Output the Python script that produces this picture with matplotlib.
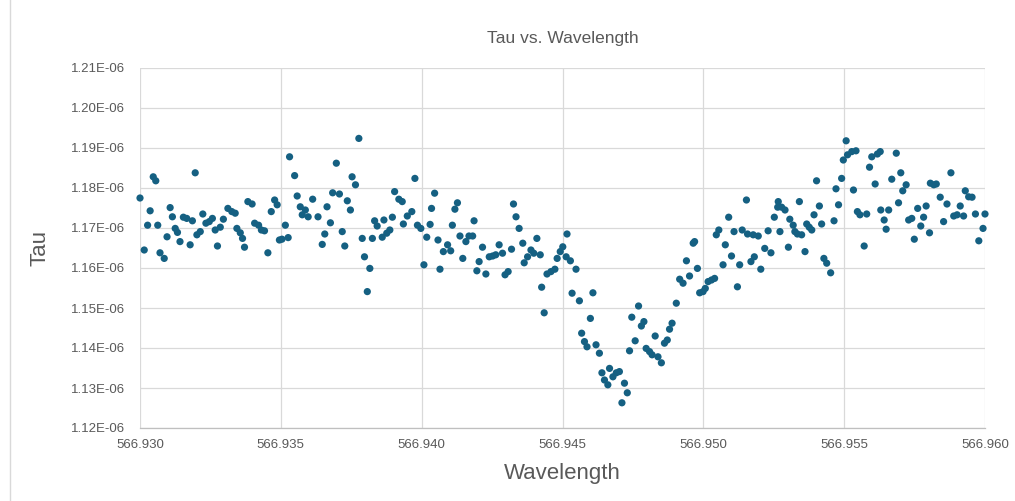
import matplotlib
matplotlib.use("Agg")
import matplotlib.pyplot as plt
from matplotlib.ticker import FuncFormatter
from matplotlib.lines import Line2D
import numpy as np

wavelength = [
    566.93000, 566.93015, 566.93027, 566.93036, 566.93047, 566.93056, 566.93063, 566.93071, 566.93086, 566.93096,
    566.93107, 566.93115, 566.93125, 566.93133, 566.93142, 566.93154, 566.93166, 566.93178, 566.93186, 566.93196,
    566.93202, 566.93214, 566.93223, 566.93234, 566.93246, 566.93257, 566.93267, 566.93275, 566.93285, 566.93296,
    566.93312, 566.93326, 566.93338, 566.93344, 566.93356, 566.93364, 566.93371, 566.93383, 566.93398, 566.93407,
    566.93421, 566.93431, 566.93442, 566.93454, 566.93466, 566.93478, 566.93487, 566.93495, 566.93504, 566.93516,
    566.93526, 566.93531, 566.93549, 566.93558, 566.93569, 566.93576, 566.93587, 566.93597, 566.93613, 566.93632,
    566.93647, 566.93656, 566.93664, 566.93676, 566.93684, 566.93697, 566.93708, 566.93718, 566.93727, 566.93736,
    566.93747, 566.93753, 566.93765, 566.93777, 566.93789, 566.93797, 566.93807, 566.93816, 566.93825, 566.93833,
    566.93842, 566.93860, 566.93866, 566.93876, 566.93887, 566.93896, 566.93904, 566.93919, 566.93931, 566.93935,
    566.93949, 566.93965, 566.93976, 566.93985, 566.93997, 566.94008, 566.94018, 566.94030, 566.94035, 566.94046,
    566.94058, 566.94065, 566.94077, 566.94092, 566.94103, 566.94109, 566.94118, 566.94127, 566.94136, 566.94146,
    566.94157, 566.94168, 566.94181, 566.94186, 566.94196, 566.94204, 566.94216, 566.94228, 566.94240, 566.94252,
    566.94263, 566.94275, 566.94287, 566.94296, 566.94307, 566.94319, 566.94326, 566.94335, 566.94346, 566.94359,
    566.94364, 566.94376, 566.94388, 566.94398, 566.94409, 566.94421, 566.94426, 566.94435, 566.94445, 566.94459,
    566.94473, 566.94481, 566.94492, 566.94501, 566.94513, 566.94516, 566.94528, 566.94534, 566.94548, 566.94560,
    566.94568, 566.94578, 566.94587, 566.94599, 566.94608, 566.94619, 566.94631, 566.94640, 566.94649, 566.94661,
    566.94667, 566.94679, 566.94691, 566.94702, 566.94711, 566.94720, 566.94730, 566.94738, 566.94746, 566.94758,
    566.94770, 566.94780, 566.94789, 566.94797, 566.94809, 566.94818, 566.94829, 566.94839, 566.94851, 566.94862,
    566.94872, 566.94880, 566.94889, 566.94904, 566.94916, 566.94928, 566.94940, 566.94951, 566.94964, 566.94969,
    566.94979, 566.94987, 566.94999, 566.95007, 566.95017, 566.95029, 566.95040, 566.95046, 566.95055, 566.95070,
    566.95078, 566.95090, 566.95100, 566.95109, 566.95121, 566.95129, 566.95138, 566.95153, 566.95157, 566.95169,
    566.95177, 566.95181, 566.95195, 566.95204, 566.95218, 566.95230, 566.95240, 566.95252, 566.95264, 566.95266,
    566.95272, 566.95278, 566.95290, 566.95302, 566.95307, 566.95319, 566.95325, 566.95334, 566.95341, 566.95349,
    566.95361, 566.95367, 566.95376, 566.95385, 566.95393, 566.95402, 566.95412, 566.95420, 566.95428, 566.95438,
    566.95452, 566.95464, 566.95471, 566.95480, 566.95491, 566.95497, 566.95507, 566.95512, 566.95527, 566.95533,
    566.95542, 566.95547, 566.95556, 566.95571, 566.95580, 566.95590, 566.95598, 566.95610, 566.95618, 566.95628,
    566.95630, 566.95642, 566.95649, 566.95658, 566.95669, 566.95685, 566.95693, 566.95701, 566.95708, 566.95720,
    566.95729, 566.95740, 566.95749, 566.95761, 566.95772, 566.95782, 566.95791, 566.95803, 566.95806, 566.95818,
    566.95827, 566.95841, 566.95853, 566.95865, 566.95879, 566.95889, 566.95901, 566.95912, 566.95924, 566.95930,
    566.95942, 566.95954, 566.95966, 566.95978, 566.95993, 566.96000,
]

tau_e6 = [
    1.1775, 1.1645, 1.1707, 1.1743, 1.1828, 1.1818, 1.1707, 1.1638, 1.1624, 1.1678,
    1.1751, 1.1728, 1.1699, 1.1689, 1.1666, 1.1727, 1.1724, 1.1658, 1.1718, 1.1838,
    1.1683, 1.1691, 1.1735, 1.1712, 1.1716, 1.1724, 1.1695, 1.1655, 1.1702, 1.1722,
    1.1749, 1.1741, 1.1737, 1.1699, 1.1688, 1.1674, 1.1652, 1.1766, 1.1760, 1.1712,
    1.1707, 1.1695, 1.1693, 1.1638, 1.1741, 1.1770, 1.1758, 1.1670, 1.1672, 1.1707,
    1.1676, 1.1878, 1.1831, 1.1780, 1.1753, 1.1733, 1.1745, 1.1728, 1.1772, 1.1728,
    1.1659, 1.1685, 1.1753, 1.1713, 1.1788, 1.1862, 1.1785, 1.1691, 1.1655, 1.1768,
    1.1745, 1.1828, 1.1808, 1.1924, 1.1674, 1.1628, 1.1541, 1.1599, 1.1674, 1.1718,
    1.1705, 1.1677, 1.1720, 1.1687, 1.1695, 1.1727, 1.1791, 1.1772, 1.1766, 1.1710,
    1.1730, 1.1741, 1.1824, 1.1707, 1.1699, 1.1608, 1.1677, 1.1709, 1.1749, 1.1787,
    1.1670, 1.1597, 1.1641, 1.1658, 1.1643, 1.1707, 1.1747, 1.1763, 1.1680, 1.1624,
    1.1666, 1.1680, 1.1680, 1.1718, 1.1593, 1.1616, 1.1652, 1.1585, 1.1628, 1.1630,
    1.1633, 1.1658, 1.1637, 1.1583, 1.1591, 1.1647, 1.1760, 1.1728, 1.1699, 1.1662,
    1.1613, 1.1628, 1.1645, 1.1637, 1.1674, 1.1633, 1.1552, 1.1488, 1.1585, 1.1591,
    1.1597, 1.1624, 1.1641, 1.1653, 1.1628, 1.1685, 1.1618, 1.1537, 1.1597, 1.1518,
    1.1437, 1.1416, 1.1403, 1.1474, 1.1538, 1.1408, 1.1387, 1.1338, 1.1320, 1.1308,
    1.1349, 1.1328, 1.1338, 1.1341, 1.1263, 1.1312, 1.1288, 1.1393, 1.1477, 1.1418,
    1.1505, 1.1455, 1.1466, 1.1399, 1.1391, 1.1383, 1.1430, 1.1378, 1.1363, 1.1412,
    1.1420, 1.1447, 1.1462, 1.1512, 1.1572, 1.1562, 1.1618, 1.1580, 1.1662, 1.1666,
    1.1599, 1.1538, 1.1541, 1.1549, 1.1566, 1.1570, 1.1574, 1.1683, 1.1695, 1.1608,
    1.1658, 1.1727, 1.1630, 1.1691, 1.1553, 1.1608, 1.1695, 1.1770, 1.1685, 1.1616,
    1.1683, 1.1628, 1.1680, 1.1597, 1.1649, 1.1693, 1.1638, 1.1727, 1.1752, 1.1766,
    1.1691, 1.1752, 1.1745, 1.1652, 1.1722, 1.1707, 1.1691, 1.1685, 1.1766, 1.1683,
    1.1641, 1.1710, 1.1702, 1.1695, 1.1733, 1.1818, 1.1755, 1.1710, 1.1624, 1.1612,
    1.1588, 1.1718, 1.1798, 1.1758, 1.1824, 1.1870, 1.1918, 1.1883, 1.1891, 1.1795,
    1.1893, 1.1741, 1.1733, 1.1655, 1.1735, 1.1852, 1.1878, 1.1810, 1.1885, 1.1891,
    1.1745, 1.1720, 1.1697, 1.1745, 1.1822, 1.1887, 1.1763, 1.1838, 1.1793, 1.1808,
    1.1720, 1.1724, 1.1672, 1.1749, 1.1705, 1.1727, 1.1755, 1.1688, 1.1812, 1.1808,
    1.1810, 1.1777, 1.1716, 1.1760, 1.1838, 1.1730, 1.1733, 1.1755, 1.1730, 1.1793,
    1.1778, 1.1777, 1.1735, 1.1668, 1.1699, 1.1735,
]

x_ticks = [566.930, 566.935, 566.940, 566.945, 566.950, 566.955, 566.960]
y_ticks_e6 = [1.12, 1.13, 1.14, 1.15, 1.16, 1.17, 1.18, 1.19, 1.20, 1.21]

title = "Tau vs. Wavelength"
xlabel = "Wavelength"
ylabel = "Tau"

tau = np.array(tau_e6) * 1e-6

plt.rcParams['font.family'] = ['Liberation Sans', 'DejaVu Sans']

fig = plt.figure(figsize=(10.15, 5.01), dpi=100)
ax = fig.add_axes([140 / 1015, 1 - 428 / 501, 845 / 1015, 360 / 501])

grid_col = '#d9d9d9'
text_col = '#595959'

ax.scatter(wavelength, tau, s=27, color='#156082', edgecolors='none', zorder=3, clip_on=False)

ax.set_xlim(x_ticks[0], x_ticks[-1])
ax.set_ylim(y_ticks_e6[0] * 1e-6, y_ticks_e6[-1] * 1e-6)
ax.set_xticks(x_ticks)
ax.set_yticks([v * 1e-6 for v in y_ticks_e6])
ax.xaxis.set_major_formatter(FuncFormatter(lambda v, p: f"{v:.3f}"))
ax.yaxis.set_major_formatter(FuncFormatter(lambda v, p: f"{v:.2E}"))

ax.grid(True, color=grid_col, linewidth=0.9, zorder=0)
ax.set_axisbelow(True)
for s in ['top', 'right', 'left']:
    ax.spines[s].set_visible(False)
ax.spines['bottom'].set_color('#bfbfbf')
ax.spines['bottom'].set_linewidth(0.9)

ax.tick_params(axis='y', length=0, labelsize=9.5, labelcolor=text_col, pad=11)
ax.tick_params(axis='x', length=0, labelsize=9.5, labelcolor=text_col, pad=8)

ax.set_title(title, fontsize=12.5, color=text_col, pad=18)
ax.set_xlabel(xlabel, fontsize=16, color=text_col)
ax.set_ylabel(ylabel, fontsize=16, color=text_col)
ax.xaxis.set_label_coords(0.5, (428 - 474) / 360)
ax.xaxis.label.set_va('center')
ax.yaxis.set_label_coords((40 - 140) / 845, 0.5)
ax.yaxis.label.set_va('center')

fig.add_artist(Line2D([10 / 1015, 10 / 1015], [0, 1], color='#d9d9d9', linewidth=1))

fig.savefig("out.png", dpi=100)
